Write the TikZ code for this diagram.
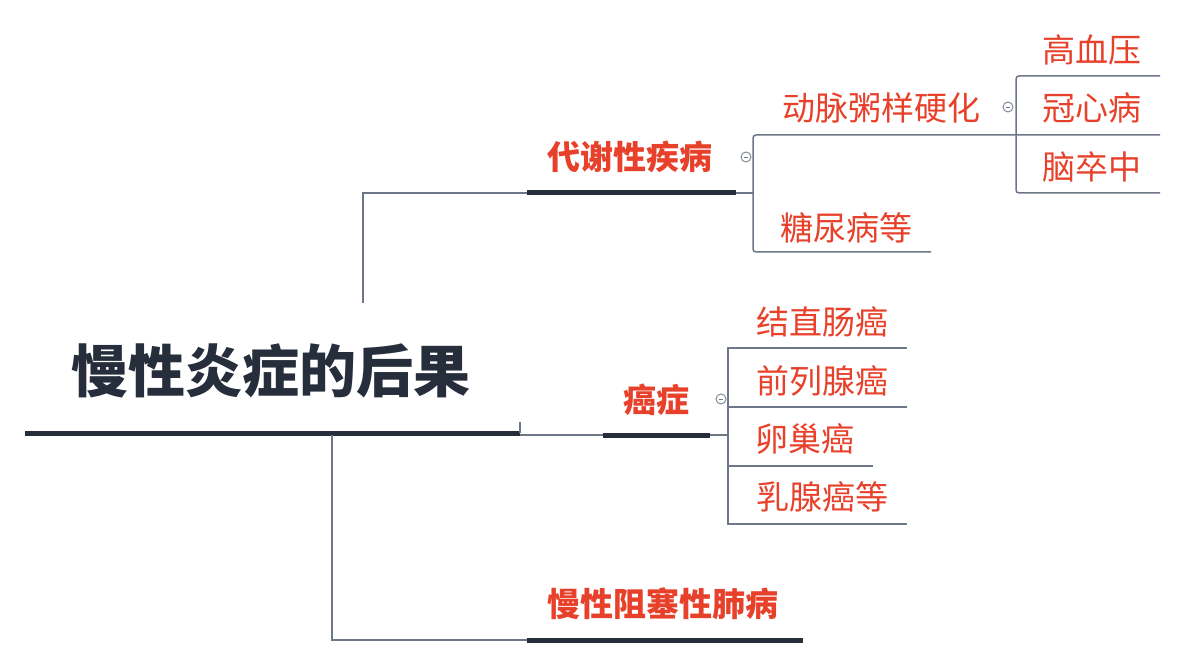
\documentclass[tikz,border=0pt]{standalone}
\usepackage{fontspec}
\newfontfamily\cjk{Noto Sans CJK SC}
\definecolor{txtred}{HTML}{E8412B}
\definecolor{darkbar}{HTML}{262D3B}
\definecolor{thinline}{HTML}{6E7787}
\begin{document}
\begin{tikzpicture}[x=1pt,y=-1pt,
  lbl/.style={text=txtred, font=\cjk\fontsize{33}{33}\selectfont, inner sep=0pt},
  blbl/.style={text=txtred, font=\cjk\bfseries\fontsize{33}{33}\selectfont, inner sep=0pt},
  rootlbl/.style={text=darkbar, font=\cjk\bfseries\fontsize{57}{57}\selectfont, inner sep=0pt},
  bar/.style={draw=darkbar, line width=5pt},
  conn/.style={draw=thinline, line width=1.5pt},
  fold/.style={circle, draw=thinline!85, line width=1pt, minimum size=10pt, inner sep=0pt, fill=white,
    path picture={\draw[thinline, line width=0.8pt] ([xshift=2.6pt]path picture bounding box.west) -- ([xshift=-2.6pt]path picture bounding box.east);}}
]
\useasboundingbox (0,0) rectangle (1181,663);
\fill[white] (0,0) rectangle (1181,663);

% ---- root ----
\node[rootlbl] (root) at (271,371) {慢性炎症的后果};
\coordinate (rootL) at (25,433);
\coordinate (rootR) at (520,433);
\coordinate (rootT) at (520,422);
\draw[bar] (rootL) -- (rootR);
\draw[conn] (rootT) -- (rootR);

% ---- branch 1: 代谢性疾病 ----
\node[blbl] (b1) at (630,157) {代谢性疾病};
\coordinate (b1L) at (527,193);
\coordinate (b1R) at (736,193);
\coordinate (up1) at (363,303);
\coordinate (up2) at (363,193);
\draw[conn] (up1) -- (up2) -- (b1L);
\draw[bar] (b1L) -- (b1R);
\coordinate (br1) at (753,193);
\draw[conn] (b1R) -- (br1);
\coordinate (br1T) at (753,135);
\coordinate (br1B) at (753,252);
\coordinate (dmEnd) at (1160,135);
\coordinate (tnEnd) at (931,252);
\draw[conn, rounded corners=3pt] (dmEnd) -- (br1T) -- (br1B) -- (tnEnd);
\node[fold] (f1) at (746,157) {};
\node[lbl] (dm) at (881,108) {动脉粥样硬化};
\node[lbl] (tn) at (846,228) {糖尿病等};

% sub-branch of 动脉粥样硬化
\coordinate (br2T) at (1016,76);
\coordinate (br2B) at (1016,193);
\coordinate (gxyEnd) at (1160,76);
\coordinate (nczEnd) at (1160,193);
\draw[conn, rounded corners=3pt] (gxyEnd) -- (br2T) -- (br2B) -- (nczEnd);
\node[fold] (f2) at (1008,107) {};
\node[lbl] (gxy) at (1092,50) {高血压};
\node[lbl] (gxb) at (1092,108) {冠心病};
\node[lbl] (ncz) at (1092,167) {脑卒中};

% ---- branch 2: 癌症 ----
\node[blbl] (b2) at (656,400) {癌症};
\coordinate (b2L) at (603,435);
\coordinate (b2R) at (710,435);
\coordinate (rootC) at (520,435);
\draw[conn] (rootC) -- (b2L);
\draw[bar] (b2L) -- (b2R);
\coordinate (br3) at (728,435);
\draw[conn] (b2R) -- (br3);
\coordinate (br3T) at (728,348);
\coordinate (br3B) at (728,524);
\coordinate (c1End) at (907,348);
\coordinate (c2End) at (907,407);
\coordinate (c2Start) at (728,407);
\coordinate (c3End) at (873,466);
\coordinate (c3Start) at (728,466);
\coordinate (c4End) at (907,524);
\draw[conn] (c1End) -- (br3T) -- (br3B) -- (c4End);
\draw[conn] (c2Start) -- (c2End);
\draw[conn] (c3Start) -- (c3End);
\node[fold] (f3) at (721,399) {};
\node[lbl] (c1) at (822,322) {结直肠癌};
\node[lbl] (c2) at (822,381) {前列腺癌};
\node[lbl] (c3) at (805,439) {卵巢癌};
\node[lbl] (c4) at (822,497) {乳腺癌等};

% ---- branch 3: 慢性阻塞性肺病 ----
\node[blbl] (b3) at (663,604) {慢性阻塞性肺病};
\coordinate (dn1) at (332,435);
\coordinate (dn2) at (332,640);
\coordinate (b3L) at (527,640);
\coordinate (b3R) at (803,639);
\draw[conn] (dn1) -- (dn2) -- (b3L);
\draw[bar] (b3L) -- (b3R |- b3L);
\end{tikzpicture}
\end{document}
